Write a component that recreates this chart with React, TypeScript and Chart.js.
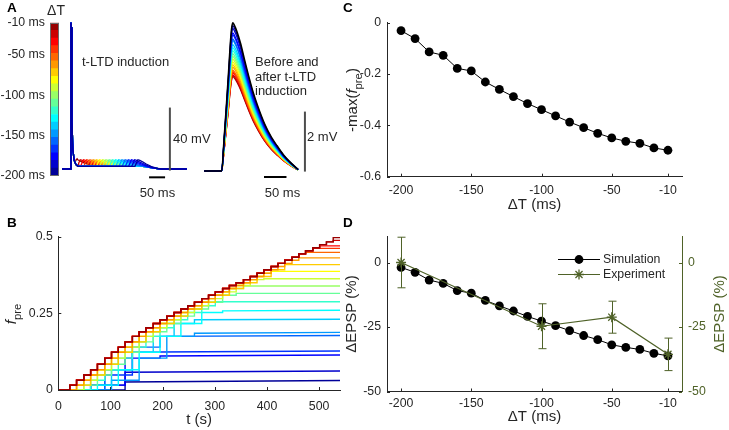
import React, { useEffect, useRef } from "react";
import { Chart, registerables } from "chart.js";

Chart.register(...registerables);

const FONT = "'Liberation Sans', Arial, Helvetica, sans-serif";
const INK = "#262626";
const OLIVE = "#4f6228";
const BAR_GRAY = "#4d4d4d";

// ---------------- data ----------------
const DELTA_T = [-200, -190, -180, -170, -160, -150, -140, -130, -120, -110, -100, -90, -80, -70, -60, -50, -40, -30, -20, -10];
const NEG_MAX_FPRE = [-0.031, -0.062, -0.114, -0.127, -0.178, -0.188, -0.231, -0.26, -0.288, -0.315, -0.339, -0.363, -0.387, -0.409, -0.431, -0.449, -0.462, -0.47, -0.488, -0.497];
const SIM_DEPSP = [-1.9, -3.8, -6.8, -8.1, -10.9, -11.9, -14.7, -16.8, -18.8, -20.9, -22.7, -24.5, -26.4, -28.3, -29.9, -31.9, -32.9, -33.7, -35.2, -36.2];
const EXP_DT = [-200, -100, -50, -10];
const EXP_DEPSP = [0, -24.7, -21.2, -35.6];
const EXP_ERR = [9.8, 8.7, 6.2, 6.3];

const DT_TICKS = [-200, -150, -100, -50, -10];
const C_Y_TICKS = [0, -0.2, -0.4, -0.6];
const D_Y_TICKS = [0, -25, -50];
const B_X_TICKS = [0, 100, 200, 300, 400, 500];
const B_Y_TICKS = [0, 0.25, 0.5];
const CBAR_TICKS = [-10, -50, -100, -150, -200];

// Panel B: staircase of the top (ΔT = -10 ms) trace (update times in s, f_pre values)
const ENV_T = [22, 35, 49, 62, 75, 89, 102, 115, 128, 142, 155, 168, 182, 195, 208, 222, 235, 248, 261, 275, 288, 301, 315, 328, 341, 355, 368, 381, 394, 408, 421, 434, 448, 461, 474, 488, 501, 514, 527];
const ENV_F = [0.016, 0.032, 0.049, 0.066, 0.084, 0.104, 0.123, 0.14, 0.157, 0.175, 0.19, 0.203, 0.217, 0.229, 0.241, 0.253, 0.264, 0.275, 0.286, 0.298, 0.309, 0.32, 0.331, 0.341, 0.35, 0.36, 0.37, 0.381, 0.392, 0.403, 0.413, 0.423, 0.433, 0.444, 0.454, 0.464, 0.474, 0.483, 0.497];
// per trace: first update (index into ENV_T), update every n steps, lag in steps behind the top trace
const B_FIRST = [8, 3, 3, 1, 1, 2, 0, 1, 1, 0, 1, 0, 0, 1, 0, 0, 0, 0, 0, 0];
const B_EVERY = [5, 5, 5, 4, 4, 4, 3, 3, 2, 2, 2, 2, 1, 2, 1, 1, 1, 1, 1, 1];
const B_LAG = [7, 3, 3, 3, 2, 5, 3, 4, 2, 2, 1, 1, 1, 1, 1, 0, 0, 0, 0, 0];
const B_DRIFT = [0.005, 0.004, 0.003, 0.003, 0.003, 0.003, 0.002, 0.002, 0, 0, 0, 0, 0, 0, 0, 0, 0, 0, 0, 0];
const B_T_END = 540;

// Panel A (left): membrane potential during induction (ms, mV)
const BASE_T = [-28, -2, 0, 1, 3, 6, 10, 15, 22, 225, 240, 255, 270, 285, 362];
const BASE_V = [-70, -70, 23, 20, -40, -58, -64.5, -67, -68.3, -68.3, -68.8, -69.3, -69.7, -70, -70];
const BUMP_T = [0, 4, 9, 15, 25, 35, 50, 70];
const BUMP_DV = [0, 2, 4.2, 3.8, 2.7, 1.8, 0.8, 0];
const SCALEBAR_A_V = { t: 309, v0: -71, v1: -31 };
const SCALEBAR_A_T = { v: -75.3, t0: 244, t1: 294 };

// Panel A (right): EPSP before (black) and after induction (ms, normalised)
const EPSP_T = [-39, 0, 5, 10, 15, 19, 22, 24.5, 28, 34, 42, 50, 60, 70, 81, 95, 110, 123, 137, 152, 170];
const EPSP_SHAPE = [0, 0, 0.2, 0.42, 0.65, 0.85, 0.96, 1, 0.985, 0.94, 0.86, 0.76, 0.64, 0.53, 0.43, 0.32, 0.23, 0.17, 0.11, 0.06, 0.01];
const EPSP_BEFORE_MV = 4.94;
const SCALEBAR_E_V = { t: 185, v0: -0.02, v1: 1.98 };
const SCALEBAR_E_T = { v: -0.2, t0: 94, t1: 144 };

// ---------------- helpers ----------------
function jet(m: number): string[] {
  const n = Math.ceil(m / 4);
  const u: number[] = [];
  for (let i = 1; i <= n; i++) u.push(i / n);
  for (let i = 1; i < n; i++) u.push(1);
  for (let i = n; i >= 1; i--) u.push(i / n);
  const g0 = Math.ceil(n / 2) - (m % 4 === 1 ? 1 : 0);
  const rgb = Array.from({ length: m }, () => [0, 0, 0]);
  for (let k = 0; k < u.length; k++) {
    const g = g0 + k + 1;
    const r = g + n;
    const b = g - n;
    if (r >= 1 && r <= m) rgb[r - 1][0] = u[k];
    if (g >= 1 && g <= m) rgb[g - 1][1] = u[k];
    if (b >= 1 && b <= m) rgb[b - 1][2] = u[k];
  }
  return rgb.map(([r, g, b]) => `rgb(${Math.round(r * 255)},${Math.round(g * 255)},${Math.round(b * 255)})`);
}
const JET = jet(DELTA_T.length);

function interp(xs: number[], ys: number[], x: number): number {
  if (x <= xs[0]) return ys[0];
  if (x >= xs[xs.length - 1]) return ys[ys.length - 1];
  for (let i = 1; i < xs.length; i++) {
    if (x <= xs[i]) {
      const f = (x - xs[i - 1]) / (xs[i] - xs[i - 1]);
      return ys[i - 1] + f * (ys[i] - ys[i - 1]);
    }
  }
  return ys[ys.length - 1];
}

const TITLE_SIZE = 15;
const tickFont = { family: FONT, size: 12.3 };
const titleFont = { family: FONT, size: TITLE_SIZE };

function fixedTicks(values: number[]) {
  return (s: any) => {
    s.ticks = values.map((v) => ({ value: v }));
  };
}

function axis(extra: any) {
  return {
    type: "linear",
    grid: { display: false, drawTicks: false },
    border: { display: true, color: INK, width: 1 },
    ...extra,
    ticks: {
      color: INK,
      font: tickFont,
      autoSkip: false,
      maxRotation: 0,
      callback: (v: any) => String(v),
      ...(extra.ticks || {}),
    },
  };
}

const hidden = (min: number, max: number) => ({ type: "linear", display: false, min, max });

// ---------------- plugins ----------------
const inTicks = {
  id: "inTicks",
  afterDraw(chart: any, _a: any, opts: any) {
    const specs = opts && opts.axes;
    if (!specs) return;
    const ctx = chart.ctx;
    ctx.save();
    for (const id of Object.keys(specs)) {
      const s = chart.scales[id];
      if (!s) continue;
      const { len, color } = specs[id];
      ctx.strokeStyle = color;
      ctx.lineWidth = 1;
      ctx.beginPath();
      for (const t of s.ticks) {
        const p = Math.round(s.getPixelForValue(t.value)) + 0.5;
        if (s.isHorizontal()) {
          ctx.moveTo(p, s.top);
          ctx.lineTo(p, s.top - len);
        } else if (s.position === "left") {
          ctx.moveTo(s.right, p);
          ctx.lineTo(s.right + len, p);
        } else {
          ctx.moveTo(s.left, p);
          ctx.lineTo(s.left - len, p);
        }
      }
      ctx.stroke();
    }
    ctx.restore();
  },
};

const errorBars = {
  id: "errorBars",
  afterDatasetsDraw(chart: any, _a: any, opts: any) {
    if (!opts || opts.datasetIndex === undefined) return;
    const meta = chart.getDatasetMeta(opts.datasetIndex);
    const ds = chart.data.datasets[opts.datasetIndex];
    const ys = chart.scales[meta.yAxisID];
    const xs = chart.scales[meta.xAxisID];
    const ctx = chart.ctx;
    ctx.save();
    ctx.strokeStyle = opts.color;
    ctx.lineWidth = 1;
    ctx.beginPath();
    ds.data.forEach((pt: any, i: number) => {
      const e = opts.errors[i];
      const x = Math.round(xs.getPixelForValue(pt.x)) + 0.5;
      const y0 = ys.getPixelForValue(pt.y - e);
      const y1 = ys.getPixelForValue(pt.y + e);
      ctx.moveTo(x, y0);
      ctx.lineTo(x, y1);
      ctx.moveTo(x - opts.cap, y0);
      ctx.lineTo(x + opts.cap, y0);
      ctx.moveTo(x - opts.cap, y1);
      ctx.lineTo(x + opts.cap, y1);
    });
    ctx.stroke();
    ctx.restore();
  },
};

const inLegend = {
  id: "inLegend",
  afterDraw(chart: any, _a: any, opts: any) {
    if (!opts || !opts.items) return;
    const ctx = chart.ctx;
    const ca = chart.chartArea;
    ctx.save();
    opts.items.forEach((it: any, i: number) => {
      const ds = chart.data.datasets[it.datasetIndex];
      const x0 = ca.left + opts.dx;
      const y = Math.round(ca.top + opts.dy + i * opts.rowGap) + 0.5;
      const xm = x0 + opts.lineLen / 2;
      ctx.strokeStyle = ds.borderColor;
      ctx.lineWidth = ds.borderWidth;
      ctx.beginPath();
      ctx.moveTo(x0, y);
      ctx.lineTo(x0 + opts.lineLen, y);
      ctx.stroke();
      const r = ds.pointRadius;
      if (ds.pointStyle === "star") {
        ctx.lineWidth = ds.pointBorderWidth;
        ctx.beginPath();
        ctx.moveTo(xm - r, y);
        ctx.lineTo(xm + r, y);
        ctx.moveTo(xm, y - r);
        ctx.lineTo(xm, y + r);
        const d = r * 0.7071;
        ctx.moveTo(xm - d, y - d);
        ctx.lineTo(xm + d, y + d);
        ctx.moveTo(xm - d, y + d);
        ctx.lineTo(xm + d, y - d);
        ctx.stroke();
      } else {
        ctx.fillStyle = ds.pointBackgroundColor;
        ctx.beginPath();
        ctx.arc(xm, y, r, 0, Math.PI * 2);
        ctx.fill();
      }
      ctx.fillStyle = INK;
      ctx.font = `12.3px ${FONT}`;
      ctx.textBaseline = "middle";
      ctx.textAlign = "left";
      ctx.fillText(ds.label, x0 + opts.lineLen + opts.textGap, y);
    });
    ctx.restore();
  },
};

const rotTitle = {
  id: "rotTitle",
  afterDraw(chart: any, _a: any, opts: any) {
    if (!opts || !opts.text) return;
    const ctx = chart.ctx;
    ctx.save();
    ctx.translate(opts.x, opts.y);
    ctx.rotate(-Math.PI / 2);
    ctx.fillStyle = opts.color;
    ctx.font = `${opts.size}px ${FONT}`;
    ctx.textAlign = "center";
    ctx.textBaseline = "middle";
    ctx.fillText(opts.text, 0, 0);
    ctx.restore();
  },
};

const frameBox = {
  id: "frameBox",
  afterDraw(chart: any, _a: any, opts: any) {
    if (!opts || !opts.color) return;
    const ca = chart.chartArea;
    const ctx = chart.ctx;
    ctx.save();
    ctx.strokeStyle = opts.color;
    ctx.lineWidth = 1;
    ctx.strokeRect(Math.round(ca.left) + 0.5, Math.round(ca.top) + 0.5, Math.round(ca.right - ca.left) - 1, Math.round(ca.bottom - ca.top) - 1);
    ctx.restore();
  },
};

const basePlugins = { legend: { display: false }, tooltip: { enabled: false } };

// ---------------- chart builders ----------------
function buildColorbar(): any {
  const datasets = DELTA_T.map((_, i) => ({
    data: [[-200 + i * 9.5, -200 + (i + 1) * 9.5]],
    backgroundColor: JET[i],
    borderWidth: 0,
    grouped: false,
    barPercentage: 1,
    categoryPercentage: 1,
  }));
  return {
    type: "bar",
    data: { labels: [""], datasets },
    options: {
      responsive: false,
      animation: false,
      events: [],
      layout: { padding: { top: 22.7, bottom: 14.3, left: 0, right: 3 } },
      plugins: { ...basePlugins, frameBox: { color: "#6b6b6b" } },
      scales: {
        x: { type: "category", display: false },
        y: axis({
          min: -200,
          max: -10,
          border: { display: false },
          afterBuildTicks: fixedTicks(CBAR_TICKS),
          afterFit: (s: any) => {
            s.width = 50;
          },
          ticks: { padding: 5, callback: (v: any) => `${v} ms` },
        }),
      },
    },
    plugins: [frameBox],
  };
}

function buildSpikeTraces(): any {
  const datasets: any[] = DELTA_T.map((dt, i) => {
    const s = -dt;
    const times = Array.from(new Set([...BASE_T, ...BUMP_T.map((t) => t + s)])).sort((a, b) => a - b);
    const data = times.map((t) => {
      const inBump = t >= s && t <= s + BUMP_T[BUMP_T.length - 1];
      return { x: t, y: interp(BASE_T, BASE_V, t) + (inBump ? interp(BUMP_T, BUMP_DV, t - s) : 0) };
    });
    return { data, borderColor: JET[i], borderWidth: 1.3, pointRadius: 0, order: i + 2 };
  });
  datasets.push({
    data: [
      { x: SCALEBAR_A_V.t, y: SCALEBAR_A_V.v0 },
      { x: SCALEBAR_A_V.t, y: SCALEBAR_A_V.v1 },
    ],
    borderColor: BAR_GRAY,
    borderWidth: 2,
    pointRadius: 0,
    order: 0,
  });
  datasets.push({
    data: [
      { x: SCALEBAR_A_T.t0, y: SCALEBAR_A_T.v },
      { x: SCALEBAR_A_T.t1, y: SCALEBAR_A_T.v },
    ],
    borderColor: "#000",
    borderWidth: 2,
    pointRadius: 0,
    order: 0,
  });
  return {
    type: "line",
    data: { datasets },
    options: {
      responsive: false,
      animation: false,
      events: [],
      layout: { padding: 0 },
      plugins: basePlugins,
      scales: { x: hidden(-28.1, 362.5), y: hidden(-77.0, 24.6) },
    },
  };
}

function buildEpsp(): any {
  const datasets: any[] = DELTA_T.map((_, i) => {
    const amp = EPSP_BEFORE_MV * (1 + SIM_DEPSP[i] / 100);
    return {
      data: EPSP_T.map((t, k) => ({ x: t, y: EPSP_SHAPE[k] * amp })),
      borderColor: JET[i],
      borderWidth: 1.3,
      pointRadius: 0,
      cubicInterpolationMode: "monotone",
      order: 1 + i,
    };
  });
  datasets.push({
    data: EPSP_T.map((t, k) => ({ x: t, y: EPSP_SHAPE[k] * EPSP_BEFORE_MV })),
    borderColor: "#000",
    borderWidth: 1.6,
    pointRadius: 0,
    cubicInterpolationMode: "monotone",
    order: 0,
  });
  datasets.push({
    data: [
      { x: SCALEBAR_E_V.t, y: SCALEBAR_E_V.v0 },
      { x: SCALEBAR_E_V.t, y: SCALEBAR_E_V.v1 },
    ],
    borderColor: BAR_GRAY,
    borderWidth: 2,
    pointRadius: 0,
    order: 0,
  });
  datasets.push({
    data: [
      { x: SCALEBAR_E_T.t0, y: SCALEBAR_E_T.v },
      { x: SCALEBAR_E_T.t1, y: SCALEBAR_E_T.v },
    ],
    borderColor: "#000",
    borderWidth: 2,
    pointRadius: 0,
    order: 0,
  });
  return {
    type: "line",
    data: { datasets },
    options: {
      responsive: false,
      animation: false,
      events: [],
      layout: { padding: 0 },
      plugins: basePlugins,
      scales: { x: hidden(-48.2, 207.4), y: hidden(-0.467, 5.2) },
    },
  };
}

function buildB(): any {
  const datasets = DELTA_T.map((_, i) => {
    const cap = -NEG_MAX_FPRE[i];
    const stepCap = cap - B_DRIFT[i];
    const pts: { x: number; y: number }[] = [{ x: 0, y: 0 }];
    let prev = 0;
    for (let k = B_FIRST[i]; k < ENV_T.length; k += B_EVERY[i]) {
      const src = k - B_LAG[i];
      const v = src >= 0 ? Math.min(stepCap, ENV_F[src]) : 0;
      if (v !== prev) {
        pts.push({ x: ENV_T[k], y: prev });
        pts.push({ x: ENV_T[k], y: v });
        prev = v;
      }
      if (v >= stepCap) break;
    }
    pts.push({ x: B_T_END, y: prev >= stepCap ? cap : prev });
    return { data: pts, borderColor: JET[i], borderWidth: 1.4, pointRadius: 0, order: 19 - i };
  });
  return {
    type: "line",
    data: { datasets },
    options: {
      responsive: false,
      animation: false,
      events: [],
      layout: { padding: { top: 21.7, right: 10, left: 0, bottom: 0 } },
      plugins: { ...basePlugins, inTicks: { axes: { x: { len: 3, color: INK }, y: { len: 3, color: INK } } } },
      scales: {
        x: axis({
          min: 0,
          max: 540,
          afterBuildTicks: fixedTicks(B_X_TICKS),
          afterFit: (s: any) => {
            s.height = 40;
          },
          ticks: { padding: 9.2 },
          title: { display: true, text: "t (s)", color: INK, font: titleFont, padding: { top: 0, bottom: 1 } },
        }),
        y: axis({
          min: 0,
          max: 0.5,
          afterBuildTicks: fixedTicks(B_Y_TICKS),
          afterFit: (s: any) => {
            s.width = 58.3;
          },
          ticks: { padding: 5.5 },
        }),
      },
    },
    plugins: [inTicks],
  };
}

function buildC(): any {
  return {
    type: "line",
    data: {
      datasets: [
        {
          data: DELTA_T.map((x, i) => ({ x, y: NEG_MAX_FPRE[i] })),
          borderColor: "#000",
          backgroundColor: "#000",
          borderWidth: 1,
          pointRadius: 4.4,
          pointBackgroundColor: "#000",
          pointBorderWidth: 0,
        },
      ],
    },
    options: {
      responsive: false,
      animation: false,
      events: [],
      layout: { padding: { top: 22.7, right: 47, left: 0, bottom: 0 } },
      plugins: { ...basePlugins, inTicks: { axes: { x: { len: 3, color: INK }, y: { len: 3, color: INK } } } },
      scales: {
        x: axis({
          min: -210,
          max: 0,
          afterBuildTicks: fixedTicks(DT_TICKS),
          afterFit: (s: any) => {
            s.height = 38.3;
          },
          ticks: { padding: 7 },
          title: { display: true, text: "ΔT (ms)", color: INK, font: titleFont, padding: { top: 0, bottom: 1 } },
        }),
        y: axis({
          min: -0.6,
          max: 0,
          afterBuildTicks: fixedTicks(C_Y_TICKS),
          afterFit: (s: any) => {
            s.width = 47;
          },
          ticks: { padding: 6 },
        }),
      },
    },
    plugins: [inTicks],
  };
}

function buildD(): any {
  return {
    type: "line",
    data: {
      datasets: [
        {
          label: "Simulation",
          data: DELTA_T.map((x, i) => ({ x, y: SIM_DEPSP[i] })),
          borderColor: "#000",
          backgroundColor: "#000",
          borderWidth: 1,
          pointRadius: 4.4,
          pointBackgroundColor: "#000",
          pointBorderWidth: 0,
          order: 1,
          yAxisID: "y",
        },
        {
          label: "Experiment",
          data: EXP_DT.map((x, i) => ({ x, y: EXP_DEPSP[i] })),
          borderColor: OLIVE,
          backgroundColor: OLIVE,
          borderWidth: 1.2,
          pointStyle: "star",
          pointRadius: 5,
          pointBorderWidth: 1.3,
          pointBorderColor: OLIVE,
          order: 0,
          yAxisID: "y",
        },
      ],
    },
    options: {
      responsive: false,
      animation: false,
      events: [],
      layout: { padding: { top: 21.7, right: 0, left: 0, bottom: 0 } },
      plugins: {
        ...basePlugins,
        inTicks: { axes: { x: { len: 3, color: INK }, y: { len: 3, color: INK }, y2: { len: 3, color: OLIVE } } },
        errorBars: { datasetIndex: 1, errors: EXP_ERR, color: OLIVE, cap: 4 },
        inLegend: {
          items: [{ datasetIndex: 0 }, { datasetIndex: 1 }],
          dx: 171,
          dy: 22,
          rowGap: 15,
          lineLen: 42,
          textGap: 3,
        },
        rotTitle: { text: "ΔEPSP (%)", x: 380, y: 99, color: OLIVE, size: TITLE_SIZE },
      },
      scales: {
        x: axis({
          min: -210,
          max: 0,
          afterBuildTicks: fixedTicks(DT_TICKS),
          afterFit: (s: any) => {
            s.height = 38.5;
          },
          ticks: { padding: 4.5 },
          title: { display: true, text: "ΔT (ms)", color: INK, font: titleFont, padding: { top: 0, bottom: 4 } },
        }),
        y: axis({
          position: "left",
          min: -50,
          max: 10,
          afterBuildTicks: fixedTicks(D_Y_TICKS),
          afterFit: (s: any) => {
            s.width = 47;
          },
          ticks: { padding: 6 },
          title: { display: true, text: "ΔEPSP (%)", color: INK, font: titleFont, padding: { top: 3, bottom: 0 } },
        }),
        y2: axis({
          position: "right",
          min: -50,
          max: 10,
          border: { display: true, color: OLIVE, width: 1 },
          afterBuildTicks: fixedTicks(D_Y_TICKS),
          afterFit: (s: any) => {
            s.width = 47;
          },
          ticks: { padding: 6, color: OLIVE },
        }),
      },
    },
    plugins: [inTicks, errorBars, inLegend, rotTitle],
  };
}

// ---------------- components ----------------
function ChartCanvas({ x, y, w, h, build }: { x: number; y: number; w: number; h: number; build: () => any }) {
  const ref = useRef<HTMLCanvasElement>(null);
  useEffect(() => {
    const chart = new Chart(ref.current as HTMLCanvasElement, build());
    return () => chart.destroy();
  }, []);
  return (
    <canvas
      ref={ref}
      width={w}
      height={h}
      style={{ position: "absolute", left: x, top: y, width: w, height: h, display: "block" }}
    />
  );
}

function Label({ x, y, children, size = 13, bold = false, color = INK, align = "left", rotate = false }: any) {
  const tx = align === "center" ? "-50%" : "0";
  const transform = rotate ? "translate(-50%,-50%) rotate(-90deg)" : `translate(${tx},-50%)`;
  return (
    <div
      style={{
        position: "absolute",
        left: x,
        top: y,
        transform,
        fontFamily: FONT,
        fontSize: size,
        fontWeight: bold ? "bold" : "normal",
        color,
        whiteSpace: "nowrap",
        lineHeight: 1.15,
      }}
    >
      {children}
    </div>
  );
}

const Fpre = ({ size }: { size: number }) => (
  <>
    <i>f</i>
    <span style={{ fontSize: size * 0.75, position: "relative", top: size * 0.3 }}>pre</span>
  </>
);

export default function App() {
  return (
    <div
      style={{
        position: "fixed",
        left: 0,
        top: 0,
        width: 729,
        height: 430,
        background: "#fff",
        overflow: "hidden",
      }}
    >
      <ChartCanvas x={0} y={0} w={62} h={190} build={buildColorbar} />
      <ChartCanvas x={62} y={20} w={125} h={160} build={buildSpikeTraces} />
      <ChartCanvas x={200} y={15} w={115} h={170} build={buildEpsp} />
      <ChartCanvas x={0} y={215} w={350} h={215} build={buildB} />
      <ChartCanvas x={340} y={0} w={389} h={215} build={buildC} />
      <ChartCanvas x={340} y={215} w={389} h={215} build={buildD} />

      <Label x={7} y={8} size={13.5} bold color="#000">A</Label>
      <Label x={7} y={223} size={13.5} bold color="#000">B</Label>
      <Label x={343} y={8} size={13.5} bold color="#000">C</Label>
      <Label x={343} y={223} size={13.5} bold color="#000">D</Label>

      <Label x={56} y={10} size={14} align="center">ΔT</Label>
      <Label x={82} y={62} size={13}>t-LTD induction</Label>
      <Label x={173} y={139} size={13}>40 mV</Label>
      <Label x={157.5} y={193} size={13} align="center">50 ms</Label>
      <Label x={255} y={62} size={13}>Before and</Label>
      <Label x={255} y={76.5} size={13}>after t-LTD</Label>
      <Label x={255} y={91} size={13}>induction</Label>
      <Label x={307} y={137} size={13}>2 mV</Label>
      <Label x={282.5} y={193} size={13} align="center">50 ms</Label>

      <Label x={11} y={314} size={TITLE_SIZE} rotate>
        <Fpre size={TITLE_SIZE} />
      </Label>
      <Label x={352} y={100} size={TITLE_SIZE} rotate>
        -max(<Fpre size={TITLE_SIZE} />)
      </Label>
    </div>
  );
}
